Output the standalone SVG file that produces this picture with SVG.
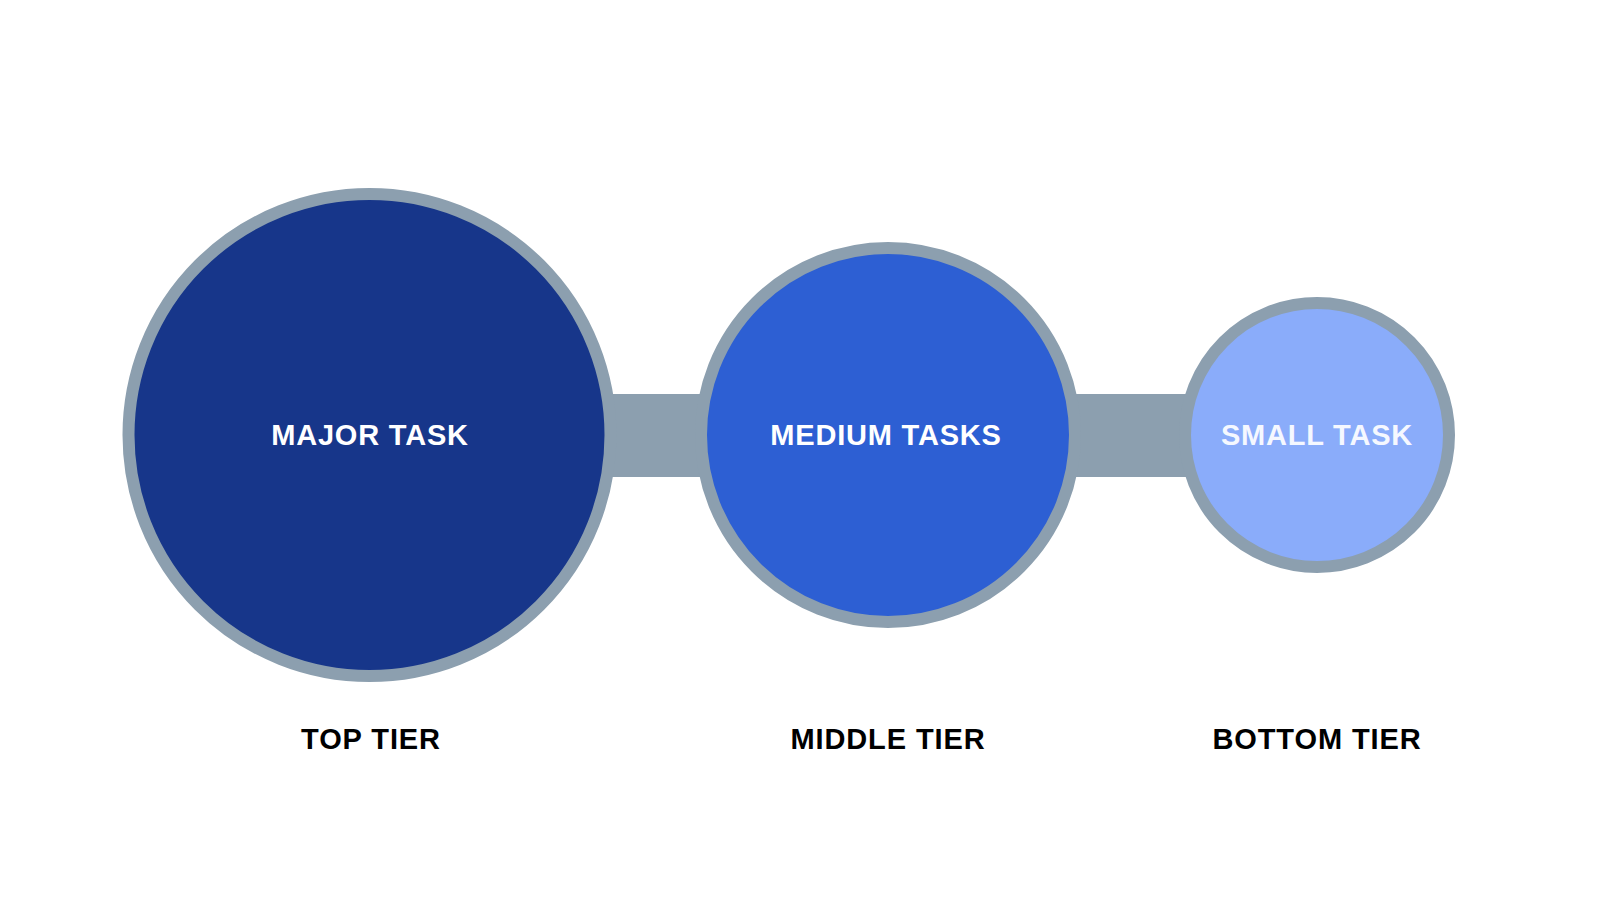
<svg xmlns="http://www.w3.org/2000/svg" width="1600" height="900" viewBox="0 0 1600 900">
<style>
.ring{stroke:#8C9FAF;stroke-width:12}
.bar{fill:#8C9FAF}
.in{font-family:"Liberation Sans",Arial,sans-serif;font-weight:bold;font-size:29px;fill:#FFFFFF;text-anchor:middle;letter-spacing:0.8px}
.lab{font-family:"Liberation Sans",Arial,sans-serif;font-weight:bold;font-size:29px;fill:#000000;text-anchor:middle;letter-spacing:0.9px}
</style>
<rect width="1600" height="900" fill="#FFFFFF"/>
<g id="connectors">
<rect class="bar" x="600" y="394" width="110" height="83"/>
<rect class="bar" x="1060" y="394" width="140" height="83"/>
</g>
<g id="major">
<circle class="ring" cx="369.5" cy="435" r="241" fill="#17368A"/>
<text class="in" x="370" y="445">MAJOR TASK</text>
</g>
<g id="medium">
<circle class="ring" cx="888" cy="435" r="187" fill="#2D5FD3"/>
<text class="in" x="886" y="445">MEDIUM TASKS</text>
</g>
<g id="small">
<circle class="ring" cx="1317" cy="435" r="132" fill="#8AACFA"/>
<text class="in" x="1317" y="445" style="fill:#F5F8FF">SMALL TASK</text>
</g>
<g id="labels">
<text class="lab" x="371" y="749">TOP TIER</text>
<text class="lab" x="888" y="749">MIDDLE TIER</text>
<text class="lab" x="1317" y="749">BOTTOM TIER</text>
</g>
</svg>
